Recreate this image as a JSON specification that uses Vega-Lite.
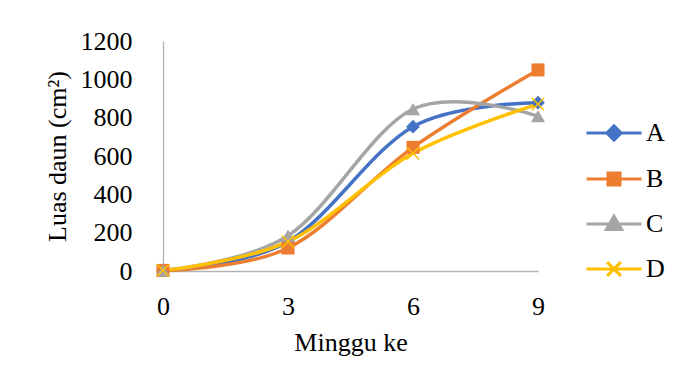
{
  "$schema": "https://vega.github.io/schema/vega-lite/v6.json",
  "width": 375,
  "height": 230,
  "autosize": "none",
  "padding": {"left": 163, "top": 41, "right": 140, "bottom": 111},
  "background": "white",
  "config": {
    "view": {"stroke": null},
    "font": "Liberation Serif",
    "axis": {
      "grid": false,
      "ticks": false,
      "domainColor": "#B4B4B4",
      "domainWidth": 1.3,
      "labelFont": "Liberation Serif",
      "labelFontSize": 26,
      "labelColor": "#000000",
      "titleFont": "Liberation Serif",
      "titleFontSize": 26,
      "titleFontWeight": "normal",
      "titleColor": "#000000"
    },
    "legend": {
      "labelFont": "Liberation Serif",
      "labelFontSize": 26,
      "labelColor": "#000000"
    }
  },
  "data": {
    "values": [
      {"minggu": 0, "perlakuan": "A", "luas": 3},
      {"minggu": 3, "perlakuan": "A", "luas": 153},
      {"minggu": 6, "perlakuan": "A", "luas": 753},
      {"minggu": 9, "perlakuan": "A", "luas": 878},
      {"minggu": 0, "perlakuan": "B", "luas": 3},
      {"minggu": 3, "perlakuan": "B", "luas": 120},
      {"minggu": 6, "perlakuan": "B", "luas": 645},
      {"minggu": 9, "perlakuan": "B", "luas": 1049},
      {"minggu": 0, "perlakuan": "C", "luas": 3},
      {"minggu": 3, "perlakuan": "C", "luas": 184},
      {"minggu": 6, "perlakuan": "C", "luas": 845},
      {"minggu": 9, "perlakuan": "C", "luas": 808},
      {"minggu": 0, "perlakuan": "D", "luas": 3},
      {"minggu": 3, "perlakuan": "D", "luas": 153},
      {"minggu": 6, "perlakuan": "D", "luas": 614},
      {"minggu": 9, "perlakuan": "D", "luas": 871}
    ]
  },
  "encoding": {
    "x": {
      "field": "minggu",
      "type": "quantitative",
      "scale": {"domain": [0, 9], "nice": false, "zero": false},
      "axis": {"values": [0, 3, 6, 9], "title": "Minggu ke", "labelPadding": 22, "titlePadding": 10, "labelFlush": false}
    },
    "y": {
      "field": "luas",
      "type": "quantitative",
      "scale": {"domain": [0, 1200], "nice": false},
      "axis": {"values": [0, 200, 400, 600, 800, 1000, 1200], "format": "d", "title": "Luas daun (cm²)", "labelPadding": 31, "titlePadding": 10}
    }
  },
  "layer": [
    {
      "mark": {"type": "line", "interpolate": "cardinal", "strokeWidth": 3.5},
      "encoding": {
        "color": {
          "field": "perlakuan",
          "type": "nominal",
          "scale": {"domain": ["A", "B", "C", "D"], "range": ["#4472C4", "#ED7D31", "#A5A5A5", "#FFC000"]},
          "legend": {
            "title": null,
            "orient": "none",
            "legendX": 422,
            "legendY": 63,
            "padding": 0,
            "symbolSize": 3025,
            "symbolStrokeWidth": 3,
            "labelOffset": 3,
            "rowPadding": 3,
            "encode": {
              "symbols": {
                "update": {
                  "shape": {"signal": "datum.value === 'A' ? 'M-1,0H1M-0.26,0L0,-0.26L0.26,0L0,0.26Z' : datum.value === 'B' ? 'M-1,0H1M-0.22,-0.22H0.22V0.22H-0.22Z' : datum.value === 'C' ? 'M-1,0H1M-0.28,0.2L0,-0.28L0.28,0.2Z' : 'M-1,0H1M-0.25,-0.25L0.25,0.25M-0.25,0.25L0.25,-0.25'"},
                  "fill": {"signal": "scale('color', datum.value)"},
                  "stroke": {"signal": "scale('color', datum.value)"},
                  "opacity": {"value": 1}
                }
              }
            }
          }
        }
      }
    },
    {
      "transform": [{"filter": "datum.perlakuan === 'A'"}],
      "mark": {"type": "point", "shape": "diamond", "filled": true, "size": 190, "color": "#4472C4", "opacity": 1}
    },
    {
      "transform": [{"filter": "datum.perlakuan === 'B'"}],
      "mark": {"type": "point", "shape": "square", "filled": true, "size": 170, "color": "#ED7D31", "opacity": 1}
    },
    {
      "transform": [{"filter": "datum.perlakuan === 'C'"}],
      "mark": {"type": "point", "shape": "triangle-up", "filled": true, "size": 200, "color": "#A5A5A5", "opacity": 1}
    },
    {
      "transform": [{"filter": "datum.perlakuan === 'D'"}],
      "mark": {"type": "point", "shape": "M-1,-1L1,1M-1,1L1,-1", "filled": false, "size": 150, "strokeWidth": 1.5, "color": "#FFC000", "opacity": 1}
    }
  ]
}
